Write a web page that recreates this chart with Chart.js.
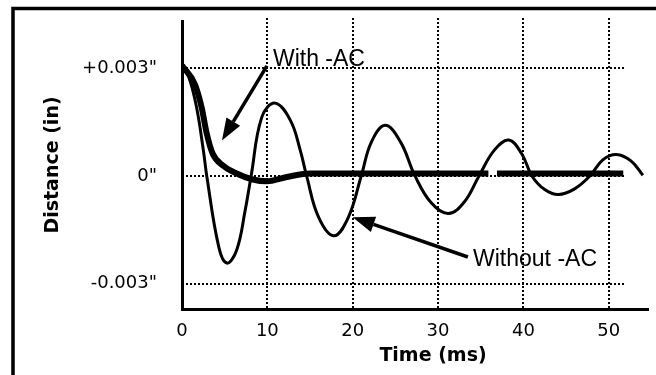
<!DOCTYPE html>
<html>
<head>
<meta charset="utf-8">
<script src="https://cdn.jsdelivr.net/npm/chart.js@4/dist/chart.umd.min.js"></script>
<style>
  html, body { margin: 0; padding: 0; background: #fff; }
  #wrap { width: 656px; height: 375px; position: relative; }
</style>
</head>
<body>
<div id="wrap"><canvas id="chart"></canvas></div>
<script>
// ── Data (time in ms, distance in inches)
const xTicks = [0, 10, 20, 30, 40, 50];
const yTicks = [-0.003, 0, 0.003];
const yTickLabels = ['-0.003"', '0"', '+0.003"'];

const withAcTime = [0, 1.5, 2.3, 2.9, 3.6, 4.8, 6.4, 8.3, 9.9, 12.3, 15, 17.4, 22, 27, 32, 35.9, 36.4, 36.9, 42, 47, 51.7];
const withAcDist = [0.00308, 0.00256, 0.00191, 0.00118, 0.00062, 0.00029, 0.00007, -0.0001, -0.00015, -0.00003, 0.00007, 0.00007, 0.00007, 0.00007, 0.00007, 0.00007, null, 0.00007, 0.00007, 0.00007, 0.00007];

const withoutAcTime = [0, 0.8, 1.7, 2.5, 2.9, 4.3, 5.25, 6.4, 7.4, 8.1, 9.35, 10.9, 12.7, 13.85, 14.6, 16.0, 17.8, 19.5, 21.0, 22.2, 23.8, 25.6, 27.3, 29.2, 31.2, 33.1, 34.8, 36.6, 38.3, 39.8, 41.0, 42.5, 44.1, 46.0, 47.8, 49.3, 50.9, 52.6, 54.0];
const withoutAcDist = [0.00305, 0.00275, 0.00192, 0.00072, 0, -0.00197, -0.00243, -0.00207, -0.00096, 0, 0.00164, 0.00203, 0.00155, 0.00072, 0, -0.00115, -0.00167, -0.00115, 0, 0.00095, 0.00141, 0.00095, 0, -0.00075, -0.00105, -0.00072, 0, 0.00072, 0.001, 0.00062, 0, -0.00038, -0.00052, -0.00036, 0, 0.00045, 0.0006, 0.00042, 0.00002];

// ── Annotations, in data units
const notes = [
  { text: "With -AC", x: 10.66, y: 0.00307, from: [9.95, 0.00307], to: [4.68, 0.00099] },
  { text: "Without -AC", x: 34.1, y: -0.00251, from: [33.5, -0.00226], to: [20.0, -0.00115] },
];

const pts = (xs, ys) => xs.map((x, i) => ({ x, y: ys[i] }));

function arrow(ctx, x1, y1, x2, y2) {
  const ang = Math.atan2(y2 - y1, x2 - x1);
  const len = 22, half = 8;
  const bx = x2 - len * Math.cos(ang), by = y2 - len * Math.sin(ang);
  ctx.beginPath();
  ctx.moveTo(x1, y1);
  ctx.lineTo(bx, by);
  ctx.stroke();
  ctx.beginPath();
  ctx.moveTo(x2, y2);
  ctx.lineTo(bx + half * Math.sin(ang), by - half * Math.cos(ang));
  ctx.lineTo(bx - half * Math.sin(ang), by + half * Math.cos(ang));
  ctx.closePath();
  ctx.fill();
}

const decor = {
  id: "decor",
  beforeDatasetsDraw(chart) {
    const { ctx, chartArea: a, scales: { x, y } } = chart;
    ctx.save();
    ctx.strokeStyle = "#000";
    ctx.lineWidth = 2;
    ctx.setLineDash([2, 2]);
    xTicks.slice(1).forEach((t) => {
      const px = Math.round(x.getPixelForValue(t));
      ctx.beginPath();
      ctx.moveTo(px, a.top - 3);
      ctx.lineTo(px, a.bottom);
      ctx.stroke();
    });
    const gridEnd = x.getPixelForValue(52);
    yTicks.forEach((v) => {
      const py = Math.round(y.getPixelForValue(v));
      ctx.beginPath();
      ctx.moveTo(a.left, py);
      ctx.lineTo(gridEnd, py);
      ctx.stroke();
    });
    ctx.restore();
  },
  afterDraw(chart) {
    const { ctx, scales: { x, y } } = chart;
    ctx.save();
    ctx.strokeStyle = "#000";
    ctx.fillStyle = "#000";

    // outer frame (left + top edges)
    ctx.lineWidth = 3.5;
    ctx.beginPath();
    ctx.moveTo(13, 375);
    ctx.lineTo(13, 8.5);
    ctx.lineTo(656, 8.5);
    ctx.stroke();

    // axis titles
    ctx.font = "bold 19px 'DejaVu Sans'";
    ctx.textAlign = "center";
    ctx.textBaseline = "alphabetic";
    ctx.fillText("Time (ms)", 433, 361);
    ctx.save();
    ctx.translate(58, 165);
    ctx.rotate(-Math.PI / 2);
    ctx.fillText("Distance (in)", 0, 0);
    ctx.restore();

    // annotations
    ctx.font = "23px 'Liberation Sans', Arial";
    ctx.textAlign = "left";
    ctx.lineWidth = 3.5;
    notes.forEach((n) => {
      ctx.fillText(n.text, x.getPixelForValue(n.x), y.getPixelForValue(n.y));
      arrow(ctx,
        x.getPixelForValue(n.from[0]), y.getPixelForValue(n.from[1]),
        x.getPixelForValue(n.to[0]), y.getPixelForValue(n.to[1]));
    });
    ctx.restore();
  },
};

new Chart(document.getElementById("chart"), {
  type: "line",
  data: {
    datasets: [
      {
        label: "With -AC",
        data: pts(withAcTime, withAcDist),
        borderColor: "#000",
        borderWidth: 6,
        pointRadius: 0,
        cubicInterpolationMode: "monotone",
        spanGaps: false,
      },
      {
        label: "Without -AC",
        data: pts(withoutAcTime, withoutAcDist),
        borderColor: "#000",
        borderWidth: 3,
        pointRadius: 0,
        tension: 0.4,
      },
    ],
  },
  options: {
    responsive: true,
    maintainAspectRatio: false,
    animation: false,
    events: [],
    layout: { padding: { left: 0, top: 21, right: 8, bottom: 0 } },
    plugins: { legend: { display: false }, tooltip: { enabled: false } },
    scales: {
      x: {
        type: "linear",
        min: 0,
        max: 54.6,
        afterBuildTicks: (s) => { s.ticks = xTicks.map((v) => ({ value: v })); },
        afterFit: (s) => { s.height = 66; s.paddingLeft = 0; s.paddingRight = 0; },
        grid: { display: false, drawTicks: false },
        border: { display: true, color: "#000", width: 3 },
        ticks: { color: "#000", padding: 12, font: { family: "'DejaVu Sans'", size: 18 } },
      },
      y: {
        type: "linear",
        min: -0.00371,
        max: 0.00432,
        afterBuildTicks: (s) => { s.ticks = yTicks.map((v) => ({ value: v })); },
        afterFit: (s) => { s.width = 182; s.paddingTop = 0; s.paddingBottom = 0; },
        grid: { display: false, drawTicks: false },
        border: { display: true, color: "#000", width: 3 },
        ticks: {
          color: "#000",
          padding: 25,
          font: { family: "'DejaVu Sans'", size: 18 },
          callback: (v, i) => yTickLabels[i],
        },
      },
    },
  },
  plugins: [decor],
});
</script>
</body>
</html>
